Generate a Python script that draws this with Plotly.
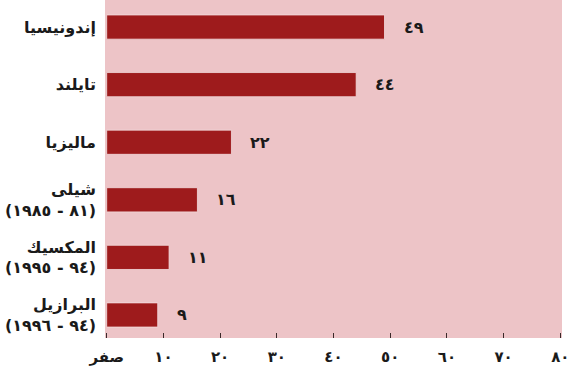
import plotly.graph_objects as go

# Categories (top to bottom) and their values
countries = [
    "إندونيسيا",
    "تايلند",
    "ماليزيا",
    "شيلى<br>\u200f(٨١ - ١٩٨٥)\u200f",
    "المكسيك<br>\u200f(٩٤ - ١٩٩٥)\u200f",
    "البرازيل<br>\u200f(٩٤ - ١٩٩٦)\u200f",
]
values = [49, 44, 22, 16, 11, 9]
value_labels = ["٤٩", "٤٤", "٢٢", "١٦", "١١", "٩"]

tick_vals = [0, 10, 20, 30, 40, 50, 60, 70, 80]
tick_text = ["صفر", "١٠", "٢٠", "٣٠", "٤٠", "٥٠", "٦٠", "٧٠", "٨٠"]

# bottom-to-top order for the category axis
cats = countries[::-1]
vals = values[::-1]
labs = value_labels[::-1]

BAR = "#9e1b1c"
BG = "#edc4c7"
FONT = "DejaVu Sans"
INK = "#1a1a1a"

fig = go.Figure()
fig.add_trace(go.Bar(
    x=vals,
    y=cats,
    orientation="h",
    width=0.42,
    marker=dict(color=BAR, line=dict(color="#f3dcdd", width=0.8)),
    hoverinfo="skip",
))

for v, c, t in zip(vals, cats, labs):
    fig.add_annotation(
        x=v, y=c, text=t, showarrow=False,
        xanchor="left", xshift=17,
        font=dict(family=FONT, size=16, color=INK, weight="bold"),
    )

fig.update_layout(
    width=568, height=371,
    margin=dict(l=105, r=6, t=0, b=33),
    paper_bgcolor="white",
    plot_bgcolor=BG,
    showlegend=False,
    font=dict(family=FONT, color=INK),
)
fig.update_xaxes(
    range=[-0.3, 80.3],
    tickvals=tick_vals, ticktext=tick_text,
    ticks="inside", ticklen=5, tickcolor="#3a2a2a", tickwidth=1,
    showgrid=False, zeroline=False, showline=False,
    ticklabelstandoff=8, ticklabeloverflow="allow",
    tickfont=dict(family=FONT, size=15, color=INK, weight="bold"),
)
fig.update_yaxes(
    categoryorder="array", categoryarray=cats,
    range=[-0.4, 5.47],
    showgrid=False, zeroline=False, showline=False,
    ticks="", ticklabelstandoff=8,
    tickfont=dict(family=FONT, size=16, color=INK, weight="bold"),
)

fig.write_html("out.html")
